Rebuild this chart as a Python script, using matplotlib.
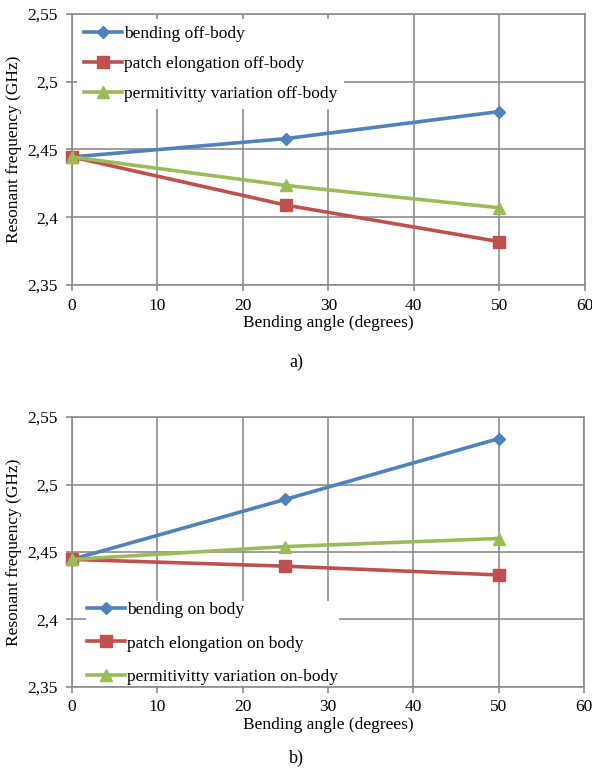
import matplotlib
matplotlib.use("Agg")
import matplotlib.pyplot as plt
from matplotlib.ticker import FixedLocator, FuncFormatter

angles = [0, 25, 50]

off_bending = [2.4445, 2.458, 2.478]
off_patch = [2.4445, 2.409, 2.382]
off_perm = [2.4445, 2.4235, 2.407]

on_bending = [2.4445, 2.489, 2.534]
on_patch = [2.4445, 2.4395, 2.433]
on_perm = [2.4445, 2.454, 2.460]

off_labels = ["bending off-body", "patch elongation off-body", "permitivitty variation off-body"]
on_labels = ["bending on body", "patch elongation on body", "permitivitty variation on-body"]

y_ticks = [2.35, 2.4, 2.45, 2.5, 2.55]
x_ticks = [0, 10, 20, 30, 40, 50, 60]

colors = ["#4F81BD", "#C0504D", "#9BBB59"]
markers = ["D", "s", "^"]
msizes = [6, 9, 9]

plt.rcParams["font.family"] = ["Liberation Serif", "DejaVu Serif"]
plt.rcParams["font.size"] = 12.5

fig = plt.figure(figsize=(5.92, 7.73), dpi=100)
ax1 = fig.add_axes([0.1216, 0.6313, 0.866, 0.3506])
ax2 = fig.add_axes([0.1216, 0.1113, 0.8649, 0.3492])


def style_axes(ax):
    ax.set_xlim(0, 60)
    ax.set_ylim(2.35, 2.55)
    ax.xaxis.set_major_locator(FixedLocator(x_ticks))
    ax.yaxis.set_major_locator(FixedLocator(y_ticks))
    ax.yaxis.set_major_formatter(FuncFormatter(lambda v, p: ("%g" % v).replace(".", ",")))
    ax.grid(True, color="#8c8c8c", linewidth=1.2)
    ax.set_axisbelow(True)
    for s in ax.spines.values():
        s.set_color("#8c8c8c")
        s.set_linewidth(1.2)
    ax.tick_params(axis="both", colors="#8c8c8c", labelcolor="black", length=4,
                   width=1.2, labelsize=12.5)
    ax.tick_params(axis="y", pad=6)
    ax.tick_params(axis="x", pad=5)
    ax.set_xlabel("Bending angle (degrees)", fontsize=12.5, labelpad=1)
    ax.set_ylabel("Resonant frequency (GHz)", fontsize=12.5, labelpad=4)


def plot_series(ax, series, labels):
    for vals, lab, c, m, ms in zip(series, labels, colors, markers, msizes):
        ax.plot(angles, vals, color=c, marker=m, markersize=ms, linewidth=2.6,
                label=lab, clip_on=False, zorder=3)


plot_series(ax1, [off_bending, off_patch, off_perm], off_labels)
plot_series(ax2, [on_bending, on_patch, on_perm], on_labels)

for ax in (ax1, ax2):
    style_axes(ax)

leg1 = ax1.legend(loc="upper left", bbox_to_anchor=(0.0, 1.0), frameon=True,
                  handlelength=2.2, handletextpad=0.1, labelspacing=0.8,
                  borderaxespad=0.3, fontsize=12.5)
leg2 = ax2.legend(loc="lower left", bbox_to_anchor=(0.028, 0.004), frameon=True,
                  handlelength=2.2, handletextpad=0.1, labelspacing=1.0,
                  borderpad=0.05, borderaxespad=0.0, fontsize=12.5)
for leg in (leg1, leg2):
    leg.get_frame().set_edgecolor("none")
    leg.get_frame().set_facecolor("white")
    leg.get_frame().set_alpha(1)
    leg.get_frame().set_boxstyle("square", pad=0.0)

fig.text(0.5, 1 - 362 / 773, "a)", ha="center", va="center", fontsize=13)
fig.text(0.5, 1 - 758 / 773, "b)", ha="center", va="center", fontsize=13)

fig.savefig("out.png", dpi=100)
